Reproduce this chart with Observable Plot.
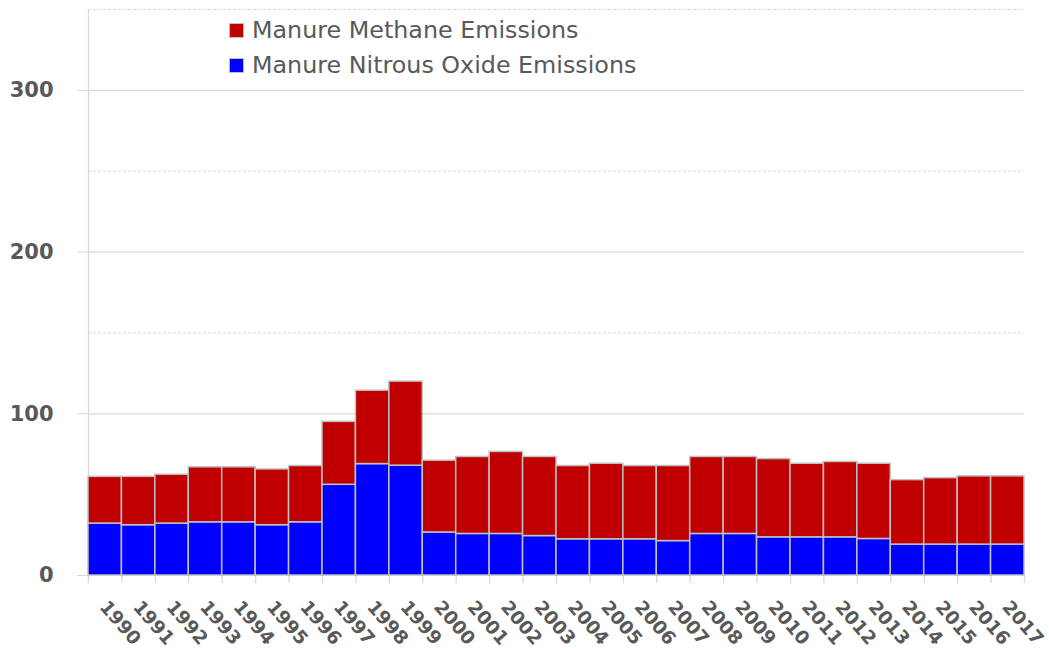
<!DOCTYPE html>
<html><head><meta charset="utf-8">
<script src="https://cdn.jsdelivr.net/npm/d3@7"></script>
<script src="https://cdn.jsdelivr.net/npm/@observablehq/plot@0.6"></script>
<style>
body{margin:0;background:#fff;font-family:"DejaVu Sans",sans-serif;}
#wrap{position:relative;width:1049px;height:648px;}
#legend{position:absolute;left:229px;top:13px;color:#595959;font-size:23.8px;line-height:35px;}
#legend .sw{display:inline-block;width:13px;height:13px;border:1px solid #bfbfbf;margin-right:8px;vertical-align:0px;}
</style></head><body>
<div id="wrap"><div id="legend"></div></div>
<script>
const years = [1990,1991,1992,1993,1994,1995,1996,1997,1998,1999,2000,2001,2002,2003,2004,2005,2006,2007,2008,2009,2010,2011,2012,2013,2014,2015,2016,2017];
const nitrous = [32.1,31.1,32.1,32.9,32.9,31.1,32.9,56.1,68.9,67.9,26.6,25.7,25.7,24.4,22.4,22.4,22.4,21.3,25.7,25.7,23.6,23.6,23.6,22.6,19.1,19.1,19.1,19.1];
const methane = [28.9,29.9,30.2,34.0,34.0,34.5,34.8,38.9,45.4,52.0,44.4,47.6,50.7,48.9,45.3,46.7,45.3,46.4,47.6,47.6,48.4,45.5,46.6,46.5,39.9,41.1,42.2,42.2];
const seriesNames = ["Manure Methane Emissions","Manure Nitrous Oxide Emissions"];
const seriesColors = ["#c00000","#0000ff"];
const yTicks = [0,100,200,300];
const yMinor = [50,150,250,350];

const W = 1049, H = 648, ML = 88, MR = 25, MT = 9, MB = 73;
const bw = (W - ML - MR) / years.length;

const rows = [];
years.forEach((yr, i) => {
  rows.push({year: yr, series: seriesNames[1], value: nitrous[i]});
  rows.push({year: yr, series: seriesNames[0], value: methane[i]});
});

const chart = Plot.plot({
  width: W, height: H,
  marginLeft: ML, marginRight: MR, marginTop: MT, marginBottom: MB,
  style: {fontFamily: '"DejaVu Sans", sans-serif', background: "white", overflow: "visible"},
  x: {type: "band", domain: years, padding: 0, round: false},
  y: {domain: [0, 350]},
  color: {domain: seriesNames, range: seriesColors},
  marks: [
    Plot.gridY(yTicks.slice(1), {stroke: "#d9d9d9", strokeOpacity: 1, strokeWidth: 1.3}),
    Plot.gridY(yMinor, {stroke: "#d9d9d9", strokeOpacity: 1, strokeDasharray: "3,2"}),
    Plot.ruleX([years[0]], {x: d => d, y1: -5, y2: 350, dx: -bw/2, stroke: "#d9d9d9", strokeWidth: 1.3}),
    Plot.ruleX(years, {x: d => d, y1: 0, y2: -5, dx: -bw/2, stroke: "#d9d9d9", strokeWidth: 1.3}),
    Plot.ruleX([years[years.length-1]], {x: d => d, y1: 0, y2: -5, dx: bw/2, stroke: "#d9d9d9", strokeWidth: 1.3}),
    Plot.barY(rows, Plot.stackY({x: "year", y: "value", fill: "series", stroke: "#c0c0c0", strokeWidth: 1.5, order: null})),
    Plot.axisY(yTicks, {tickSize: 0, tickPadding: 35, fontSize: 21, fontWeight: "bold", fill: "#595959", label: null}),
    Plot.axisY(yTicks, {tickSize: 11, tickFormat: () => "", stroke: "#d9d9d9", label: null}),
    Plot.axisX(years, {tickSize: 0, tickPadding: 28, tickRotate: 49, fontSize: 18.5, fontWeight: "bold", fill: "#595959", dx: -2, tickFormat: d => String(d), label: null})
  ]
});
document.getElementById("wrap").appendChild(chart);

const lg = document.getElementById("legend");
seriesNames.forEach((n, i) => {
  const row = document.createElement("div");
  row.innerHTML = `<span class="sw" style="background:${seriesColors[i]}"></span>${n}`;
  lg.appendChild(row);
});
</script>
</body></html>
